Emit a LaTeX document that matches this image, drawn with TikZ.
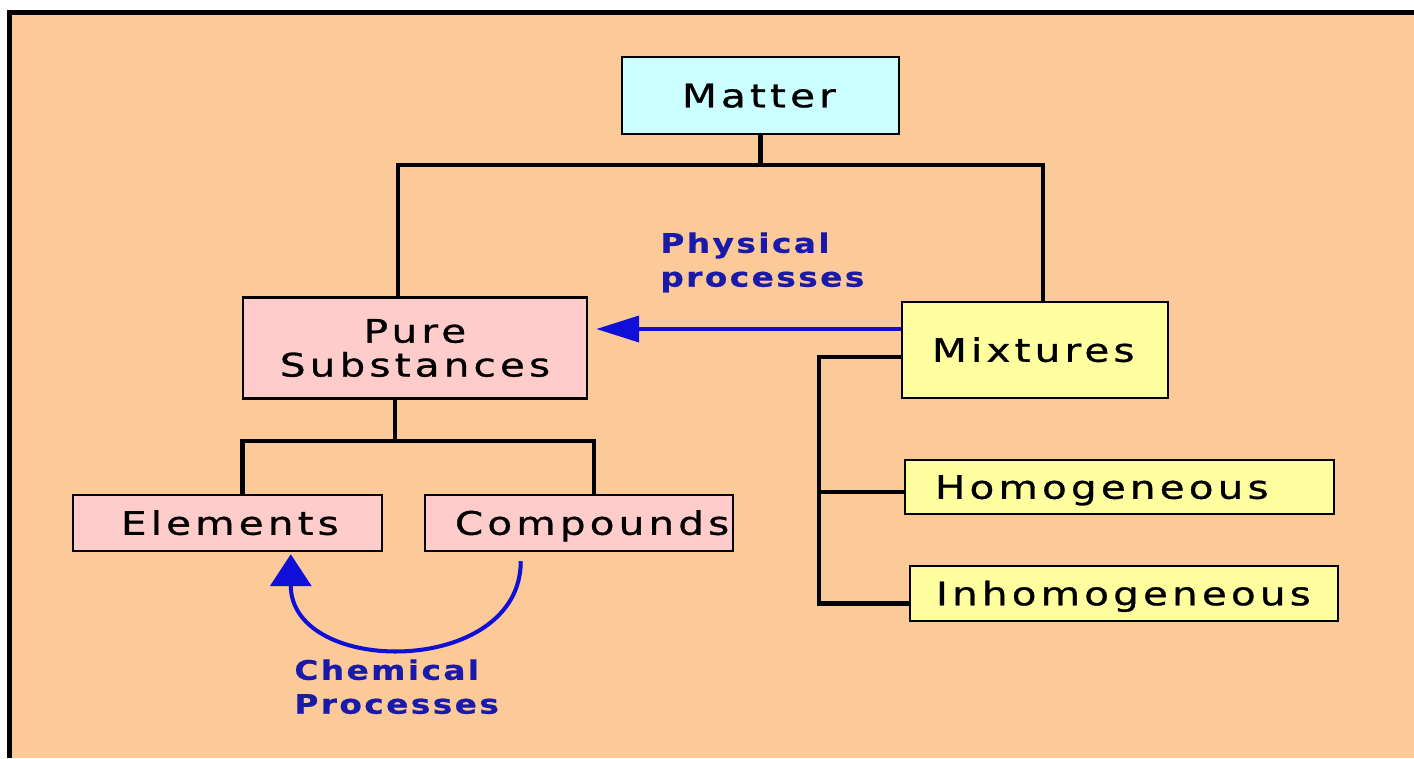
\documentclass[tikz,border=0pt]{standalone}
\usepackage{fontspec}
\usetikzlibrary{calc,arrows.meta}
\newfontfamily\boxfont[FakeStretch=1.25,LetterSpace=13,FakeBold=1]{DejaVu Sans}
\newfontfamily\lblfont[FakeStretch=1.22,LetterSpace=9,FakeBold=0.6]{DejaVu Sans Bold}
\newdimen\px \px=0.02cm
\newcommand{\lbx}[3]{\makebox[#1\px][l]{\hspace*{#2\px}#3}}
\definecolor{peach}{RGB}{252,201,152}
\definecolor{cyanbox}{RGB}{204,255,255}
\definecolor{pinkbox}{RGB}{255,204,204}
\definecolor{yellowbox}{RGB}{255,255,160}
\definecolor{lblblue}{RGB}{25,25,170}
\definecolor{arrblue}{RGB}{15,15,215}
\tikzset{
  boxbase/.style={draw=black, line width=1.4pt, inner xsep=0pt, inner ysep=0pt,
    font=\boxfont\fontsize{18.4pt}{19.3pt}\selectfont},
  box/.style={boxbase, text height=13.4pt, text depth=0pt},
  conn/.style={draw=black, line width=2.3pt},
  bluearr/.style={draw=arrblue, line width=2.3pt, -{Triangle[length=0.86cm,width=0.52cm]}},
  arcarr/.style={draw=arrblue, line width=2.3pt, -{Triangle[length=0.64cm,width=0.82cm]}},
  bluelbl/.style={text=lblblue, inner sep=0pt, align=left, anchor=north west,
    font=\lblfont\fontsize{15.3pt}{19.3pt}\selectfont}
}
\begin{document}
\begin{tikzpicture}[x=0.02cm,y=-0.02cm]
\fill[white] (0,0) rectangle (1414,758);
\fill[peach] (7,10) rectangle (1414,758);
\fill[black] (7,10) rectangle (1414,15);
\fill[black] (7,10) rectangle (12,758);
\useasboundingbox (0,0) rectangle (1414,758);

% boxes
\node[box, fill=cyanbox, minimum width=277\px, minimum height=77\px] (matter) at (760.5,95.5) {\lbx{277}{60}{Matter}};
\node[boxbase, fill=pinkbox, align=center, minimum width=344\px, minimum height=101\px] (pure) at (415,348) {Pure\\Substances};
\node[box, fill=yellowbox, minimum width=266\px, minimum height=96\px] (mix) at (1035,350) {\lbx{266}{30}{Mixtures}};
\node[box, fill=pinkbox, minimum width=309\px, minimum height=56\px] (elem) at (227.5,523) {\lbx{309}{48}{Elements}};
\node[box, fill=pinkbox, minimum width=308\px, minimum height=56\px] (comp) at (579,523) {\lbx{308}{30}{Compounds}};
\node[box, fill=yellowbox, minimum width=429\px, minimum height=54\px] (hom) at (1119.5,487) {\lbx{429}{30}{Homogeneous}};
\node[box, fill=yellowbox, minimum width=428\px, minimum height=55\px] (inh) at (1124,593.5) {\lbx{428}{26}{Inhomogeneous}};

% tree connectors
\draw[conn] (matter.south) -- ++(0,30) coordinate (mbus);
\draw[conn] ($(pure.north)+(-17,0)$) |- (mbus) -| ($(mix.north)+(8,0)$);
\draw[conn] ($(pure.south)+(-20,0)$) -- ++(0,41) coordinate (pbus);
\draw[conn] ($(elem.north)+(15,0)$) |- (pbus) -| ($(comp.north)+(15,0)$);
\draw[conn] ($(mix.west)+(0,7)$) -| ($(inh.west)+(-90,10)$) -- ($(inh.west)+(0,10)$);
\draw[conn] ($(hom.west)+(0,5)$) -- ($(hom.west)+(-85,5)$);

% processes
\draw[bluearr] ($(mix.west)+(0,-21)$) -- ($(pure.east)+(8,-19)$);
\draw[arcarr] ($(comp.south west)+(97,9)$) .. controls +(0,116) and +(0,123) .. ($(elem.south west)+(219,2)$);

\node[bluelbl] (phys) at (660,232) {Physical\\processes};
\node[bluelbl] (chem) at (294,659) {Chemical\\Processes};
\end{tikzpicture}
\end{document}
